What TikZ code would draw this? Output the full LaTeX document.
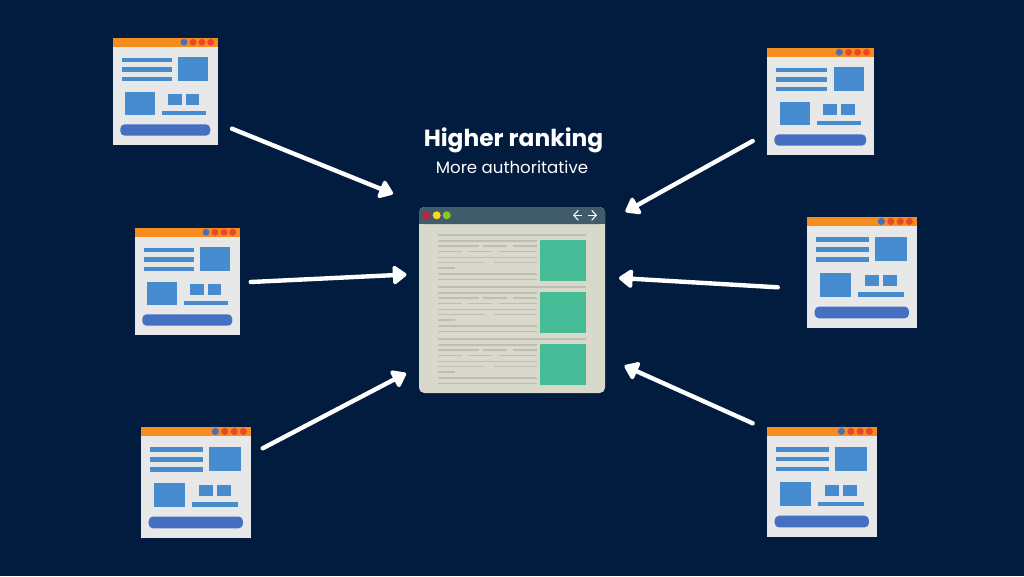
\documentclass[tikz,border=0pt]{standalone}
\usepackage{fontspec}
\setmainfont{Poppins}
\usetikzlibrary{arrows.meta}
\definecolor{nightnavy}{HTML}{011C3E}
\definecolor{tabOrange}{HTML}{F68B1E}
\definecolor{sheetgrey}{HTML}{E8E8E8}
\definecolor{blockblue}{HTML}{488CD0}
\definecolor{buttonblue}{HTML}{4570C2}
\definecolor{dotred}{HTML}{E8472B}
\definecolor{paperbeige}{HTML}{D9D9CB}
\definecolor{barslate}{HTML}{405B69}
\definecolor{textgrey}{HTML}{BEBEB6}
\definecolor{panelgreen}{HTML}{45BC96}
\definecolor{lampred}{HTML}{C4233A}
\definecolor{lampyellow}{HTML}{F7D917}
\definecolor{lampgreen}{HTML}{8CC91F}
\tikzset{
  pointer/.style={white, line width=2.5pt, line cap=round, -{Triangle[round, length=8.6pt, width=12pt]}},
  navarrow/.style={white, line width=0.6pt, -{Straight Barb[length=2.6pt, width=5.6pt]}},
  textline/.style={textgrey, line width=0.8pt},
  headline/.style={white, font=\fontsize{13.3}{13.3}\selectfont\bfseries},
  subline/.style={white, font=\fontsize{9.45}{9.45}\selectfont}
}
% small web page, drawn in a 105 x 107 box
\newcommand{\thumbpage}[4]{
  \begin{scope}[shift={(#1,#2)}, xscale=#3/105, yscale=#4/107]
    \fill[sheetgrey] (0,0) rectangle (105,107);
    \fill[tabOrange] (0,0) rectangle (105,8.5);
    \fill[buttonblue] (71,4.3) circle (3.4);
    \foreach \dotx in {80,89,97.7} \fill[dotred] (\dotx,4.3) circle (3.4);
    % text lines and blocks
    \foreach \liney in {19.5,29,38.5} \fill[blockblue] (9,\liney) rectangle (59,\liney+4.5);
    \fill[blockblue] (65.3,19.3) rectangle (95,42.7);
    \fill[blockblue] (12.3,53.7) rectangle (42,77);
    \fill[blockblue] (55,56) rectangle (68.7,66.7);
    \fill[blockblue] (72.7,56) rectangle (86.3,66.7);
    \fill[blockblue] (48.7,72.7) rectangle (92.7,77);
    \fill[buttonblue, rounded corners=2.5pt] (7.3,86.3) rectangle (97.3,97.7);
  \end{scope}
}
\begin{document}
\begin{tikzpicture}[x=0.02cm, y=-0.02cm]
  \fill[nightnavy] (0,0) rectangle (1024,576);

  % Surrounding pages
  \thumbpage{113}{38}{105}{107}
  \thumbpage{135}{228}{105}{107}
  \thumbpage{141}{427}{110}{111}
  \thumbpage{767}{48}{107}{107}
  \thumbpage{807}{217}{110}{111}
  \thumbpage{767}{427}{110}{110}

  % Central page
  \fill[paperbeige, rounded corners=3pt] (419,207) rectangle (605,393);
  \fill[barslate, rounded corners=3pt] (419,207) rectangle (605,224);
  \fill[barslate] (419,215) rectangle (605,224);
  \fill[lampred] (426.3,215.3) circle (4);
  \fill[lampyellow] (436.7,215.3) circle (4);
  \fill[lampgreen] (446.7,215.3) circle (4);
  \draw[navarrow] (582,215.3) -- (573,215.3);
  \draw[navarrow] (588,215.3) -- (597,215.3);

  % Three text sections with a green panel
  \foreach \rowy in {0,52,104} {
    \begin{scope}[shift={(0,\rowy)}]
      \fill[panelgreen] (540.3,240) rectangle (586,280.5);
      \draw[textline] (438,235) -- (586,235);
      \draw[textline] (438,241) -- (537,241);
      \draw[textline] (438,246) -- (479,246);
      \draw[textline] (483,246) -- (507,246);
      \draw[textline] (513,246) -- (537,246);
      \draw[textline] (438,251.7) -- (462,251.7);
      \draw[textline] (468,251.7) -- (492,251.7);
      \draw[textline] (499,251.7) -- (537,251.7);
      \draw[textline] (438,257.3) -- (537,257.3);
      \draw[textline] (438,262.7) -- (485,262.7);
      \draw[textline] (494,262.7) -- (537,262.7);
      \draw[textline] (438,268) -- (455,268);
      \draw[textline] (438,274) -- (537,274);
      \draw[textline] (438,279.7) -- (537,279.7);
    \end{scope}
  }

  % Title
  \node[headline] (title) at (513.5,140.5) {Higher ranking};
  \node[subline] (subtitle) at (512,167.5) {More authoritative};

  % Arrows towards the central page
  \coordinate (fromA) at (232,128.7);
  \coordinate (toA) at (393,193.8);
  \coordinate (fromB) at (250.7,282);
  \coordinate (toB) at (406.5,274.5);
  \coordinate (fromC) at (262.7,448.3);
  \coordinate (toC) at (406,373.3);
  \coordinate (fromD) at (752.7,141);
  \coordinate (toD) at (625.5,211.7);
  \coordinate (fromE) at (777.7,287.3);
  \coordinate (toE) at (619,278);
  \coordinate (fromF) at (752.7,423.3);
  \coordinate (toF) at (624.5,365.8);
  \draw[pointer] (fromA) -- (toA);
  \draw[pointer] (fromB) -- (toB);
  \draw[pointer] (fromC) -- (toC);
  \draw[pointer] (fromD) -- (toD);
  \draw[pointer] (fromE) -- (toE);
  \draw[pointer] (fromF) -- (toF);
\end{tikzpicture}
\end{document}
